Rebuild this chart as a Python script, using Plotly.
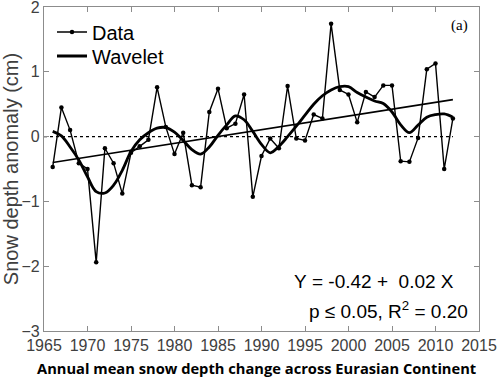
import plotly.graph_objects as go

years = [1966, 1967, 1968, 1969, 1970, 1971, 1972, 1973, 1974, 1975,
         1976, 1977, 1978, 1979, 1980, 1981, 1982, 1983, 1984, 1985,
         1986, 1987, 1988, 1989, 1990, 1991, 1992, 1993, 1994, 1995,
         1996, 1997, 1998, 1999, 2000, 2001, 2002, 2003, 2004, 2005,
         2006, 2007, 2008, 2009, 2010, 2011, 2012]

snow_anomaly = [-0.47, 0.45, 0.10, -0.41, -0.50, -1.94, -0.18, -0.41, -0.88, -0.25,
                -0.15, -0.05, 0.76, 0.15, -0.27, 0.06, -0.75, -0.78, 0.38, 0.74,
                0.13, 0.20, 0.65, -0.93, -0.30, -0.03, -0.18, 0.78, -0.03, -0.06,
                0.34, 0.28, 1.74, 0.72, 0.65, 0.22, 0.69, 0.61, 0.79, 0.79,
                -0.38, -0.39, -0.02, 1.04, 1.13, -0.50, 0.28]

wavelet = [0.08, 0.01, -0.16, -0.36, -0.62, -0.85, -0.87, -0.75, -0.52, -0.23,
           -0.05, 0.06, 0.13, 0.14, 0.07, -0.06, -0.20, -0.27, -0.16, 0.02,
           0.18, 0.32, 0.26, 0.08, -0.12, -0.25, -0.15, 0.00, 0.16, 0.33,
           0.50, 0.63, 0.72, 0.77, 0.77, 0.68, 0.61, 0.55, 0.51, 0.38,
           0.18, 0.06, 0.18, 0.30, 0.34, 0.35, 0.30]

trend_years = [1966, 2012]
trend_values = [-0.40, 0.57]

zero_years = [1965, 2012]
zero_values = [0, 0]

x_ticks = [1965, 1970, 1975, 1980, 1985, 1990, 1995, 2000, 2005, 2010, 2015]
y_ticks = [-3, -2, -1, 0, 1, 2]

fig = go.Figure()
fig.add_trace(go.Scatter(x=zero_years, y=zero_values, mode="lines",
                         line=dict(color="black", width=1.3, dash="dot"),
                         showlegend=False, hoverinfo="skip"))
fig.add_trace(go.Scatter(x=years, y=snow_anomaly, mode="lines+markers", name="Data",
                         line=dict(color="black", width=1.4),
                         marker=dict(color="black", size=4.5), legend="legend"))
fig.add_trace(go.Scatter(x=years, y=wavelet, mode="lines", name="Wavelet",
                         line=dict(color="black", width=2.8, shape="spline", smoothing=1.0),
                         legend="legend2"))
fig.add_trace(go.Scatter(x=trend_years, y=trend_values, mode="lines",
                         line=dict(color="black", width=1.6),
                         showlegend=False, hoverinfo="skip"))

axis_common = dict(showline=True, linecolor="#8c8c8c", linewidth=1.2, mirror="ticks",
                   ticks="inside", ticklen=5, tickcolor="#8c8c8c", tickwidth=1,
                   showgrid=False, zeroline=False, automargin=False,
                   ticklabeloverflow="allow",
                   tickfont=dict(family="Liberation Sans, Arial", size=16, color="#404040"))

fig.update_xaxes(range=[1965, 2015], tickvals=x_ticks, ticklabelstandoff=0, **axis_common)
fig.update_yaxes(range=[-3, 2], tickvals=y_ticks, ticklabelstandoff=0,
                 title=dict(text="Snow depth anomaly (cm)", standoff=4,
                            font=dict(family="Liberation Sans, Arial", size=20, color="#404040")),
                 **axis_common)

px_x = lambda p: (p - 44) / 435.0
px_y = lambda p: (331.0 - p) / 324.0

legend_common = dict(xanchor="left", yanchor="middle",
                     font=dict(family="Liberation Sans, Arial", size=20, color="black"),
                     bgcolor="rgba(0,0,0,0)", itemwidth=30)

fig.update_layout(
    width=500, height=380,
    margin=dict(l=44, r=21, t=7, b=49, autoexpand=False),
    plot_bgcolor="white", paper_bgcolor="white",
    legend=dict(x=px_x(52), y=px_y(32), **legend_common),
    legend2=dict(x=px_x(52), y=px_y(56), **legend_common),
)

fig.add_annotation(text="(a)", x=px_x(459), y=px_y(25), xref="paper", yref="paper",
                   xanchor="center", yanchor="middle", showarrow=False,
                   font=dict(family="Liberation Serif, Times New Roman", size=15, color="black"))
fig.add_annotation(text="Y\u00a0=\u00a0-0.42\u00a0+\u00a0\u00a00.02\u00a0X",
                   x=px_x(456), y=px_y(281), xref="paper", yref="paper",
                   showarrow=False, xanchor="right", yanchor="middle",
                   font=dict(family="Liberation Sans, Arial", size=19, color="black"))
fig.add_annotation(text="p\u00a0\u2264\u00a00.05,\u00a0R<sup>2</sup>\u00a0=\u00a00.20",
                   x=px_x(470), y=px_y(310), xref="paper", yref="paper",
                   showarrow=False, xanchor="right", yanchor="middle",
                   font=dict(family="Liberation Sans, Arial", size=19, color="black"))
fig.add_annotation(text="<b>Annual mean snow depth change across Eurasian Continent</b>",
                   x=px_x(256), y=px_y(368), xref="paper", yref="paper",
                   showarrow=False, xanchor="center", yanchor="middle",
                   font=dict(family="Open Sans, Liberation Sans", size=14.7, color="black"))

fig.write_html("out.html", config={"displayModeBar": False},
               post_script="document.body.style.margin='0';document.body.style.overflow='hidden';")
